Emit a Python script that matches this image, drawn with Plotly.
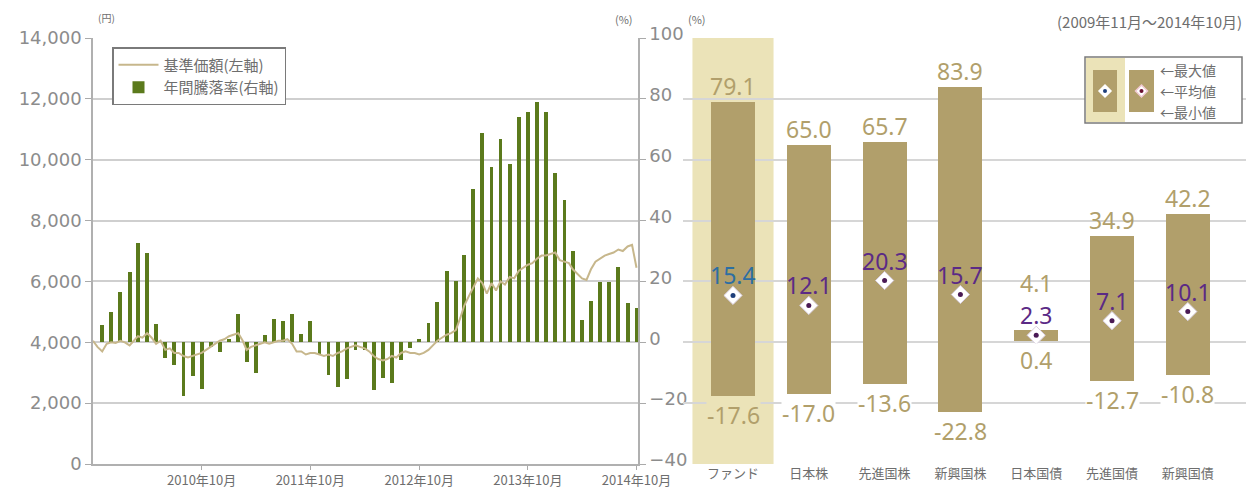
import plotly.graph_objects as go
import pandas as pd

# ---------------- left chart data ----------------
bar_months = pd.date_range("2009-11-01", "2014-10-01", freq="MS")
annual_return = [
    5.7, 9.8, 16.6, 23.1, 32.6, 29.5, 6.0, -5.3, -7.5, -17.6, -11.2, -15.2,
    -1.4, -3.1, 1.0, 9.3, -6.4, -10.1, 2.4, 7.6, 6.9, 9.3, 2.8, 6.9,
    -4.2, -10.8, -14.7, -11.9, -2.5, -2.5, -15.8, -11.6, -13.4, -5.9, -2.0, 1.0,
    6.5, 13.3, 23.3, 20.2, 28.6, 50.3, 68.9, 57.6, 66.7, 58.7, 73.9, 75.8,
    79.1, 75.8, 55.5, 46.7, 30.0, 7.3, 13.5, 19.8, 19.8, 24.8, 13.0, 11.4,
]

nav_dates = []
for m in pd.date_range("2009-10-01", "2014-09-01", freq="MS"):
    nav_dates.append(m)
    nav_dates.append(m + pd.Timedelta(days=15))
nav_dates.append(pd.Timestamp("2014-10-01"))

nav_values = [
    4050, 3850, 3700, 3950, 4000, 3980,
    4050, 4000, 3900, 4050, 4200, 4150, 4300, 4150, 3950, 4050, 3750, 3800,
    3650, 3650, 3550, 3500, 3550, 3600, 3650, 3750, 3850, 3950, 4050, 4100,
    4200, 4250, 4300, 4050, 3750, 3850, 3900, 3950, 4000, 3950, 4000, 4050,
    4050, 4100, 3950, 3700, 3700, 3600, 3650, 3650, 3600, 3550, 3600, 3550,
    3650, 3700, 3800, 3850, 3900, 3850, 3800, 3700, 3550, 3450, 3400, 3450,
    3550, 3500, 3650, 3700, 3650, 3650, 3600, 3650, 3750, 3900, 4050, 4150,
    4250, 4300, 4400, 4800, 5200, 5500, 5800, 6100, 5950, 5600, 5950, 5700,
    6000, 5900, 6150, 6100, 6350, 6450, 6550, 6600, 6750, 6850, 6850, 6900,
    6950, 6700, 6650, 6600, 6400, 6250, 6100, 6050, 6400, 6650, 6750, 6850,
    6900, 6950, 7050, 7000, 7150, 7200, 6450,
]

tick_dates = ["2010-10-01", "2011-10-01", "2012-10-01", "2013-10-01", "2014-10-01"]
tick_text = ["2010年10月", "2011年10月", "2012年10月", "2013年10月", "2014年10月"]

# ---------------- right chart data ----------------
categories = ["ファンド", "日本株", "先進国株", "新興国株", "日本国債", "先進国債", "新興国債"]
max_vals = [79.1, 65.0, 65.7, 83.9, 4.1, 34.9, 42.2]
avg_vals = [15.4, 12.1, 20.3, 15.7, 2.3, 7.1, 10.1]
min_vals = [-17.6, -17.0, -13.6, -22.8, 0.4, -12.7, -10.8]

# ---------------- layout geometry (page pixels) ----------------
OX, OY = 8, 8            # page body margin
W, H = 1254 - OX, 490 - OY
L0, L1 = 93, 638
T, B = 38, 464
R0 = 683
C0, STEP = 733, 75.8     # pixel centre of first category, spacing


def px(x):
    return (x - OX) / W


def py(y):
    return 1 - (y - OY) / H


GREY = "#8c8c8c"
TXT = "#6e6e6e"
OLIVE = "#5b7a1c"
NAVLINE = "#c7b78c"
TAN = "#b19f6b"
SHADE = "#ebe3b8"
NUMFONT = "Noto Sans, sans-serif"
JPFONT = "Noto Sans CJK JP, sans-serif"
AXFONT = "DejaVu Sans, sans-serif"

fig = go.Figure()

fig.add_trace(go.Bar(
    x=bar_months, y=annual_return, name="年間騰落率(右軸)",
    marker=dict(color=OLIVE, line=dict(width=0)),
    width=13 * 24 * 3600 * 1000, xaxis="x", yaxis="y", legendrank=2,
))
fig.add_trace(go.Scatter(
    x=nav_dates, y=nav_values, name="基準価額(左軸)", mode="lines",
    line=dict(color=NAVLINE, width=2), xaxis="x", yaxis="y2", legendrank=1,
))

idx = list(range(len(categories)))
fig.add_trace(go.Bar(
    x=idx, y=[mx - mn for mx, mn in zip(max_vals, min_vals)], base=min_vals,
    width=0.58, marker=dict(color=TAN, line=dict(width=0)),
    xaxis="x3", yaxis="y3", showlegend=False,
))
fig.add_trace(go.Scatter(
    x=idx, y=avg_vals, mode="markers",
    marker=dict(symbol="diamond", size=14, color="white",
                line=dict(color="#d9cfe0", width=1)),
    xaxis="x3", yaxis="y3", showlegend=False,
))
dot_colors = ["#1f3f7a"] + ["#4a1a55"] * (len(categories) - 1)
fig.add_trace(go.Scatter(
    x=idx, y=avg_vals, mode="markers",
    marker=dict(symbol="circle", size=5, color=dot_colors),
    xaxis="x3", yaxis="y3", showlegend=False,
))

annotations = []
shapes = []

# fund highlight column
shapes.append(dict(type="rect", xref="x3", yref="y3", x0=-0.535, x1=0.535,
                   y0=-40, y1=100, fillcolor=SHADE, line=dict(width=0), layer="below"))

avg_colors = ["#2c6ea3"] + ["#5b2a86"] * (len(categories) - 1)
max_extra = [0, 0, 0, 0, 31, 0, 0]
for i in idx:
    bg = SHADE if i == 0 else "white"
    annotations.append(dict(x=i, y=max_vals[i], xref="x3", yref="y3", text=f"{max_vals[i]:.1f}",
                            showarrow=False, yanchor="middle", yshift=16 + max_extra[i],
                            borderpad=0,
                            font=dict(family=NUMFONT, size=23, color=TAN)))
    annotations.append(dict(x=i, y=min_vals[i], xref="x3", yref="y3", text=f"{min_vals[i]:.1f}",
                            showarrow=False, yanchor="middle", yshift=-19, bgcolor=bg,
                            borderpad=0,
                            font=dict(family=NUMFONT, size=23, color=TAN)))
    annotations.append(dict(x=i, y=avg_vals[i], xref="x3", yref="y3", text=f"{avg_vals[i]:.1f}",
                            showarrow=False, yanchor="middle", yshift=20, borderpad=0,
                            font=dict(family=NUMFONT, size=23, color=avg_colors[i])))

# unit labels and period note
annotations += [
    dict(x=px(96), y=py(17), xref="paper", yref="paper", text="(円)", showarrow=False,
         xanchor="left", yanchor="middle", font=dict(family=JPFONT, size=10, color=TXT)),
    dict(x=px(624), y=py(19), xref="paper", yref="paper", text="(%)", showarrow=False,
         xanchor="center", yanchor="middle", font=dict(family=JPFONT, size=11, color=TXT)),
    dict(x=px(697), y=py(19), xref="paper", yref="paper", text="(%)", showarrow=False,
         xanchor="center", yanchor="middle", font=dict(family=JPFONT, size=11, color=TXT)),
    dict(x=px(1244), y=py(21), xref="paper", yref="paper", text="(2009年11月～2014年10月)",
         showarrow=False, xanchor="right", yanchor="middle",
         font=dict(family=JPFONT, size=15, color=TXT)),
]

# right legend box
shapes += [
    dict(type="rect", xref="paper", yref="paper", x0=px(1085), x1=px(1242), y0=py(123), y1=py(57),
         line=dict(color="#7a7a7a", width=1.5), fillcolor="white", layer="above"),
    dict(type="rect", xref="paper", yref="paper", x0=px(1086), x1=px(1125), y0=py(122), y1=py(58),
         line=dict(width=0), fillcolor=SHADE, layer="above"),
    dict(type="rect", xref="paper", yref="paper", x0=px(1093), x1=px(1117), y0=py(112), y1=py(70),
         line=dict(width=0), fillcolor=TAN, layer="above"),
    dict(type="rect", xref="paper", yref="paper", x0=px(1129), x1=px(1154), y0=py(112), y1=py(70),
         line=dict(width=0), fillcolor=TAN, layer="above"),
]
for cx, dc, edge in [(1105, "#1f3f7a", "#ffffff"), (1141.5, "#6a1030", "#f0c8d0")]:
    cy = 91
    d = 6
    path = (f"M {px(cx)} {py(cy - d)} L {px(cx + d)} {py(cy)} L {px(cx)} {py(cy + d)} "
            f"L {px(cx - d)} {py(cy)} Z")
    shapes.append(dict(type="path", xref="paper", yref="paper", path=path,
                       fillcolor="white", line=dict(color=edge, width=1.5), layer="above"))
    shapes.append(dict(type="circle", xref="paper", yref="paper",
                       x0=px(cx - 2), x1=px(cx + 2), y0=py(cy + 2), y1=py(cy - 2),
                       fillcolor=dc, line=dict(width=0), layer="above"))
for label, yy in [("←最大値", 70), ("←平均値", 91), ("←最小値", 112)]:
    annotations.append(dict(x=px(1158), y=py(yy), xref="paper", yref="paper", text=label,
                            showarrow=False, xanchor="left", yanchor="middle",
                            font=dict(family=JPFONT, size=14, color=TXT)))

fig.update_layout(
    width=W, height=H, autosize=False,
    margin=dict(l=0, r=0, t=0, b=0),
    paper_bgcolor="white", plot_bgcolor="rgba(0,0,0,0)",
    bargap=0, barmode="overlay",
    showlegend=True,
    legend=dict(x=px(112), y=py(47), xanchor="left", yanchor="top",
                bgcolor="white", bordercolor="#7a7a7a", borderwidth=1.5,
                font=dict(family=JPFONT, size=15, color=TXT),
                tracegroupgap=0, itemwidth=40),
    xaxis=dict(domain=[px(L0), px(L1)], type="date", anchor="y",
               range=["2009-10-01", "2014-10-06"],
               tickvals=tick_dates, ticktext=tick_text,
               ticks="outside", ticklen=4, tickcolor="#aaaaaa",
               showgrid=False, showline=True, linecolor="#b0b0b0", linewidth=1.5,
               tickfont=dict(family=JPFONT, size=13, color=TXT), automargin=False),
    yaxis=dict(domain=[py(B), py(T)], range=[-40, 100], dtick=20, side="right", anchor="x",
               showgrid=True, gridcolor="#cfcfcf", gridwidth=1.5, zeroline=False,
               showline=True, linecolor="#b0b0b0", linewidth=1.5,
               ticks="outside", ticklen=6, tickcolor="#aaaaaa", ticklabelshift=-4,
               tickfont=dict(family=AXFONT, size=18, color=GREY), automargin=False),
    yaxis2=dict(range=[0, 14000], dtick=2000, tickformat=",d", overlaying="y", side="left",
                anchor="x", showgrid=False, zeroline=False,
                showline=True, linecolor="#b0b0b0", linewidth=1.5,
                ticks="outside", ticklen=6, tickcolor="#aaaaaa",
                tickfont=dict(family=AXFONT, size=18, color=GREY), automargin=False),
    xaxis3=dict(domain=[px(R0), 1.0], anchor="y3",
                range=[(R0 - C0) / STEP, (1254 - C0) / STEP],
                tickvals=idx, ticktext=categories, ticks="",
                showgrid=False, showline=False, zeroline=False,
                tickfont=dict(family=JPFONT, size=13, color=TXT), automargin=False),
    yaxis3=dict(domain=[py(B), py(T)], anchor="x3", range=[-40, 100], dtick=20,
                showticklabels=False, showgrid=True, gridcolor="#d6d6d6", gridwidth=1.5,
                zeroline=False, showline=False, automargin=False),
    annotations=annotations,
    shapes=shapes,
)

fig.write_html("out.html")
